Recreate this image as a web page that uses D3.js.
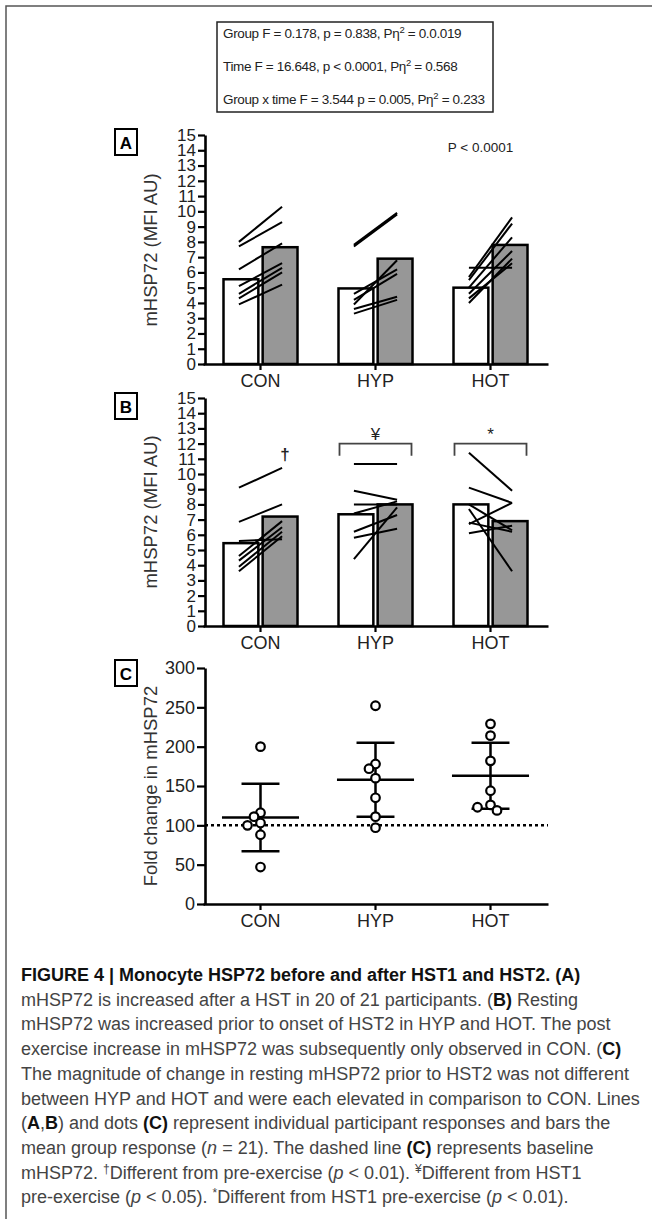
<!DOCTYPE html>
<html>
<head>
<meta charset="utf-8">
<script src="https://cdn.jsdelivr.net/npm/d3@7"></script>
<style>
  body { margin: 0; background: #fff; }
  svg text { font-family: 'Liberation Sans', Arial, sans-serif; }
</style>
</head>
<body>
<div id="chart"></div>
<script>
// data
const groups = ['CON', 'HYP', 'HOT'];
const mhspTicks = [0, 1, 2, 3, 4, 5, 6, 7, 8, 9, 10, 11, 12, 13, 14, 15];
const foldTicks = [0, 50, 100, 150, 200, 250, 300];

// panel A: group means pre / post HST1, then participants [pre, post]
const meanPreA = [5.55, 4.95, 5.0];
const meanPostA = [7.65, 6.9, 7.8];
const partA_CON = [[8.0, 10.3], [7.7, 9.3], [6.2, 7.9], [5.1, 6.6], [4.6, 6.3], [4.3, 6.0], [3.9, 5.2]];
const partA_HYP = [[7.8, 9.9], [7.7, 9.8], [4.6, 6.2], [4.2, 5.9], [3.9, 6.8], [3.6, 4.4], [3.3, 4.2]];
const partA_HOT = [[5.7, 9.6], [5.5, 9.2], [5.0, 8.3], [4.6, 7.4], [4.3, 6.6], [6.3, 6.3], [4.0, 6.9]];

// panel B: pre / post HST2
const meanPreB = [5.45, 7.35, 8.0];
const meanPostB = [7.2, 8.0, 6.9];
const partB_CON = [[9.1, 10.4], [6.85, 8.0], [5.6, 5.7], [4.6, 6.9], [4.3, 6.5], [3.9, 6.2], [3.6, 5.9]];
const partB_HYP = [[10.65, 10.65], [8.9, 8.3], [8.0, 8.0], [7.4, 8.2], [6.2, 7.3], [5.8, 6.4], [4.4, 7.8]];
const partB_HOT = [[11.4, 8.9], [9.1, 8.1], [8.0, 6.3], [6.7, 8.1], [6.1, 6.6], [7.7, 3.6], [6.8, 6.2]];
const markB = ['†', '¥', '*'];

// panel C: fold change, mean and SD
const foldCON = [200, 116, 111, 103, 100, 88, 47];
const foldHYP = [252, 178, 172, 160, 135, 111, 97];
const foldHOT = [229, 214, 182, 144, 126, 123, 119];
const foldMean = [110, 158, 163];
const foldSD = [43, 47, 42];
const baseline = 100;

const statLines = [
  ['Group F = 0.178, p = 0.838, Pη', '2', ' = 0.0.019'],
  ['Time F = 16.648, p < 0.0001, Pη', '2', ' = 0.568'],
  ['Group x time F = 3.544 p = 0.005, Pη', '2', ' = 0.233']
];

const captionLines = [
  [['FIGURE 4 | Monocyte HSP72 before and after HST1 and HST2. (A)', 'b']],
  [['mHSP72 is increased after a HST in 20 of 21 participants. ('], ['B)', 'b'], [' Resting']],
  [['mHSP72 was increased prior to onset of HST2 in HYP and HOT. The post']],
  [['exercise increase in mHSP72 was subsequently only observed in CON. ('], ['C)', 'b']],
  [['The magnitude of change in resting mHSP72 prior to HST2 was not different']],
  [['between HYP and HOT and were each elevated in comparison to CON. Lines']],
  [['('], ['A', 'b'], [','], ['B', 'b'], [') and dots '], ['(C)', 'b'], [' represent individual participant responses and bars the']],
  [['mean group response ('], ['n', 'i'], [' = 21). The dashed line '], ['(C)', 'b'], [' represents baseline']],
  [['mHSP72. '], ['†', 's'], ['Different from pre-exercise ('], ['p', 'i'], [' < 0.01). '], ['¥', 's'], ['Different from HST1']],
  [['pre-exercise ('], ['p', 'i'], [' < 0.05). '], ['*', 's'], ['Different from HST1 pre-exercise ('], ['p', 'i'], [' < 0.01).']]
];

const width = 652, height = 1219;
const axisX = 205, font = "'Liberation Sans', Arial, sans-serif";

const svg = d3.select('#chart').append('svg').attr('width', width).attr('height', height);

// page frame (top + left rule)
svg.append('path').attr('d', `M6,${height} V6 H${width}`).attr('fill', 'none')
  .attr('stroke', '#555').attr('stroke-width', 1.5);

// shared x scales
const x = d3.scaleBand().domain(groups).range([203, 548]);
const cx = g => x(g) + x.bandwidth() / 2;
const inner = d3.scaleBand().domain(['pre', 'post']).range([-37, 37]).paddingInner(0.11);

const styleAxis = (sel, size) => {
  sel.attr('font-family', font).attr('font-size', size);
  sel.select('.domain').attr('stroke-width', 2.6);
  sel.selectAll('.tick line').attr('stroke-width', 2.2);
  sel.selectAll('.tick text').attr('fill', '#222');
};

const panelBox = (letter, y) => {
  svg.append('rect').attr('x', 115).attr('y', y).attr('width', 22).attr('height', 26)
    .attr('fill', '#fff').attr('stroke', '#000').attr('stroke-width', 2);
  svg.append('text').attr('x', 126).attr('y', y + 19.5).attr('text-anchor', 'middle')
    .attr('font-size', 17).attr('font-weight', 'bold').text(letter);
};

const yTitle = (txt, cy) =>
  svg.append('text').attr('transform', `translate(157,${cy}) rotate(-90)`)
    .attr('text-anchor', 'middle').attr('font-size', 18.5).attr('fill', '#333').text(txt);

// stats box
const stats = svg.append('g');
stats.append('rect').attr('x', 217).attr('y', 22).attr('width', 276).attr('height', 90)
  .attr('fill', '#fff').attr('stroke', '#222').attr('stroke-width', 1.5);
statLines.forEach((l, i) => {
  const t = stats.append('text').attr('x', 223).attr('y', 38 + i * 33)
    .attr('font-size', 13.5).attr('fill', '#222').attr('letter-spacing', -0.35);
  t.append('tspan').text(l[0]);
  t.append('tspan').attr('dy', -5).attr('font-size', 9.5).text(l[1]);
  t.append('tspan').attr('dy', 5).text(l[2]);
});

// bar + participant line panels (A, B)
const drawBarPanel = (top, bottom, pre, post, parts) => {
  const y = d3.scaleLinear().domain([0, 15]).range([bottom, top]);
  const g = svg.append('g');
  const bars = groups.flatMap((grp, i) => [
    { grp, k: 'pre', v: pre[i], fill: '#fff' },
    { grp, k: 'post', v: post[i], fill: '#979797' }
  ]);
  g.selectAll('rect.bar').data(bars).join('rect').classed('bar', true)
    .attr('x', d => cx(d.grp) + inner(d.k))
    .attr('y', d => y(d.v))
    .attr('width', inner.bandwidth())
    .attr('height', d => y(0) - y(d.v))
    .attr('fill', d => d.fill).attr('stroke', '#000').attr('stroke-width', 2.5);

  const segs = groups.flatMap((grp, i) => parts[i].map(p => ({ grp, pre: p[0], post: p[1] })));
  g.selectAll('line.part').data(segs).join('line').classed('part', true)
    .attr('x1', d => cx(d.grp) + inner('pre') + inner.bandwidth() / 2 - 2)
    .attr('x2', d => cx(d.grp) + inner('post') + inner.bandwidth() / 2 + 2)
    .attr('y1', d => y(d.pre)).attr('y2', d => y(d.post))
    .attr('stroke', '#000').attr('stroke-width', 2);

  const ya = g.append('g').attr('transform', `translate(${axisX},0)`)
    .call(d3.axisLeft(y).tickValues(mhspTicks).tickSize(7).tickSizeOuter(0).tickPadding(2));
  styleAxis(ya, 17);
  const xa = g.append('g').attr('transform', `translate(0,${bottom})`)
    .call(d3.axisBottom(x).tickSize(6).tickSizeOuter(0).tickPadding(4));
  styleAxis(xa, 18);
  return { g, y };
};

// panel A
const pA = drawBarPanel(135, 364, meanPreA, meanPostA, [partA_CON, partA_HYP, partA_HOT]);
panelBox('A', 129);
yTitle('mHSP72 (MFI AU)', 250);
pA.g.append('text').attr('x', cx('HOT') - 10).attr('y', pA.y(14.2)).attr('dy', '0.35em')
  .attr('text-anchor', 'middle').attr('font-size', 13.5).attr('fill', '#222').text('P < 0.0001');

// panel B
const pB = drawBarPanel(398, 626, meanPreB, meanPostB, [partB_CON, partB_HYP, partB_HOT]);
panelBox('B', 393);
yTitle('mHSP72 (MFI AU)', 512);
// dagger next to top CON line
const topCon = partB_CON[0];
pB.g.append('text')
  .attr('x', cx('CON') + inner('post') + inner.bandwidth() / 2 + 5)
  .attr('y', pB.y(topCon[1]) - 8)
  .attr('text-anchor', 'middle').attr('font-size', 17).attr('font-weight', 'bold')
  .attr('fill', '#222').text(markB[0]);
// brackets over HYP and HOT
['HYP', 'HOT'].forEach((grp, i) => {
  const x0 = cx(grp) + inner('pre') + 1, x1 = cx(grp) + inner('post') + inner.bandwidth() - 1;
  const yt = pB.y(12), yb = pB.y(11.2);
  pB.g.append('path').attr('d', `M${x0},${yb} V${yt} H${x1} V${yb}`)
    .attr('fill', 'none').attr('stroke', '#444').attr('stroke-width', 1.8);
  pB.g.append('text').attr('x', cx(grp)).attr('y', yt - 4).attr('text-anchor', 'middle')
    .attr('font-size', 17).attr('fill', '#222').text(markB[i + 1]);
});

// panel C
const yC = d3.scaleLinear().domain([0, 300]).range([904, 668]);
const gC = svg.append('g');
panelBox('C', 660);
yTitle('Fold change in mHSP72', 786);

gC.append('line').attr('x1', axisX).attr('x2', 548)
  .attr('y1', yC(baseline)).attr('y2', yC(baseline))
  .attr('stroke', '#000').attr('stroke-width', 2.5).attr('stroke-dasharray', '3,3');

// simple dodge so overlapping dots sit side by side
const dodge = (vals, c) => {
  const placed = [];
  const step = 6.5, minD = 7.5;
  [...vals].sort((a, b) => b - a).forEach(v => {
    const py = yC(v);
    for (let k = 0; k < 12; k++) {
      const off = (k % 2 ? -1 : 1) * Math.ceil(k / 2) * step;
      const px = c + off;
      if (placed.every(p => Math.hypot(p.x - px, p.y - py) >= minD)) {
        placed.push({ x: px, y: py });
        break;
      }
    }
  });
  return placed;
};

const spacing = x.bandwidth();
[foldCON, foldHYP, foldHOT].forEach((vals, i) => {
  const c = cx(groups[i]);
  const m = foldMean[i], sd = foldSD[i];
  const gg = gC.append('g');
  gg.append('line').attr('x1', c).attr('x2', c).attr('y1', yC(m + sd)).attr('y2', yC(m - sd))
    .attr('stroke', '#000').attr('stroke-width', 2.5);
  [m + sd, m - sd].forEach(v => gg.append('line')
    .attr('x1', c - spacing * 0.165).attr('x2', c + spacing * 0.165)
    .attr('y1', yC(v)).attr('y2', yC(v)).attr('stroke', '#000').attr('stroke-width', 2.5));
  gg.append('line').attr('x1', c - spacing * 0.335).attr('x2', c + spacing * 0.335)
    .attr('y1', yC(m)).attr('y2', yC(m)).attr('stroke', '#000').attr('stroke-width', 2.5);
  gg.selectAll('circle').data(dodge(vals, c)).join('circle')
    .attr('cx', d => d.x).attr('cy', d => d.y).attr('r', 4.3)
    .attr('fill', '#fff').attr('stroke', '#000').attr('stroke-width', 2.2);
});

const yCa = gC.append('g').attr('transform', `translate(${axisX},0)`)
  .call(d3.axisLeft(yC).tickValues(foldTicks).tickSize(8).tickSizeOuter(0).tickPadding(2));
styleAxis(yCa, 18);
const xCa = gC.append('g').attr('transform', `translate(0,${yC(0)})`)
  .call(d3.axisBottom(x).tickSize(6).tickSizeOuter(0).tickPadding(4));
styleAxis(xCa, 18);

// caption
const cap = svg.append('g');
captionLines.forEach((segs, i) => {
  const t = cap.append('text').attr('x', 21).attr('y', 981 + i * 24.7)
    .attr('font-size', 18).attr('fill', '#444');
  let up = false;
  segs.forEach(([s, f]) => {
    const ts = t.append('tspan').text(s);
    if (f === 'b') ts.attr('font-weight', 'bold').attr('fill', '#111');
    if (f === 'i') ts.attr('font-style', 'italic');
    if (f === 's') { ts.attr('dy', -6).attr('font-size', 12); up = true; }
    else if (up) { ts.attr('dy', 6); up = false; }
  });
});
</script>
</body>
</html>
